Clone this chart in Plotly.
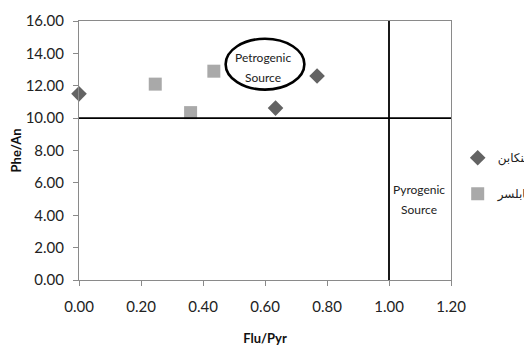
import plotly.graph_objects as go

# ---- data ----
series_names = ["تنکابن", "بابلسر"]
tonekabon_x = [0.00, 0.634, 0.768]
tonekabon_y = [11.50, 10.62, 12.60]
babolsar_x = [0.246, 0.360, 0.435]
babolsar_y = [12.10, 10.34, 12.90]

x_ticks = [0.0, 0.2, 0.4, 0.6, 0.8, 1.0, 1.2]
y_ticks = [0, 2, 4, 6, 8, 10, 12, 14, 16]
x_title = "Flu/Pyr"
y_title = "Phe/An"

# threshold lines (data units)
x_threshold = 1.0
y_threshold = 10.0

# annotation region for petrogenic ellipse (data units)
petro_ellipse = dict(x0=0.473, x1=0.727, y0=11.76, y1=14.90)
petro_lines = [("Petrogenic", 0.595, 13.73), ("Source", 0.595, 12.52)]
pyro_lines = [("Pyrogenic", 1.097, 5.61), ("Source", 1.097, 4.38)]

TICK_FONT = "Lato"

fig = go.Figure()
fig.add_trace(go.Scatter(
    x=tonekabon_x, y=tonekabon_y, mode="markers", name=series_names[0],
    legendgroup="a", cliponaxis=False,
    marker=dict(symbol="diamond", size=12, color="#636363"),
))
fig.add_trace(go.Scatter(
    x=babolsar_x, y=babolsar_y, mode="markers", name=series_names[1],
    legendgroup="b", cliponaxis=False,
    marker=dict(symbol="square", size=13, color="#a9a9a9"),
))

# threshold lines
fig.add_shape(type="line", xref="x", yref="paper", x0=x_threshold, x1=x_threshold,
              y0=0, y1=1, line=dict(color="black", width=1.8))
fig.add_shape(type="line", xref="paper", yref="y", x0=0, x1=1,
              y0=y_threshold, y1=y_threshold, line=dict(color="black", width=1.8))
fig.add_shape(type="circle", xref="x", yref="y", **petro_ellipse,
              line=dict(color="black", width=2.6), fillcolor="rgba(0,0,0,0)")

for txt, xx, yy in petro_lines + pyro_lines:
    fig.add_annotation(x=xx, y=yy, text=txt, showarrow=False,
                       font=dict(family=TICK_FONT, size=12, color="#222"))

axis_common = dict(
    showgrid=False, zeroline=False, showline=True, linecolor="#8a8a8a",
    linewidth=1, mirror=True, ticks="outside", tickcolor="#8a8a8a",
    ticklen=5, tickfont=dict(family=TICK_FONT, size=15, color="#222"),
)

fig.update_xaxes(range=[0, 1.2], tickvals=x_ticks,
                 ticktext=[f"{v:.2f}" for v in x_ticks],
                 ticklabelstandoff=8,
                 title=dict(text=f"<b>{x_title}</b>", standoff=19,
                            font=dict(family=TICK_FONT, size=13, color="#111")),
                 **axis_common)
fig.update_yaxes(range=[0, 16], tickvals=y_ticks,
                 ticktext=[f"{v:.2f}" for v in y_ticks],
                 ticklabelstandoff=6,
                 title=dict(text=f"<b>{y_title}</b>", standoff=5,
                            font=dict(family=TICK_FONT, size=13, color="#111")),
                 **axis_common)

fig.update_layout(
    width=532, height=347,
    margin=dict(l=71, r=89, t=13, b=75, autoexpand=False),
    plot_bgcolor="white", paper_bgcolor="white",
    showlegend=True,
    legend=dict(x=1.018, y=0.528, xanchor="left", yanchor="top",
                tracegroupgap=17, itemwidth=30,
                font=dict(family="DejaVu Sans", size=12, color="#222"),
                bgcolor="rgba(0,0,0,0)"),
)

fig.write_html("out.html")
